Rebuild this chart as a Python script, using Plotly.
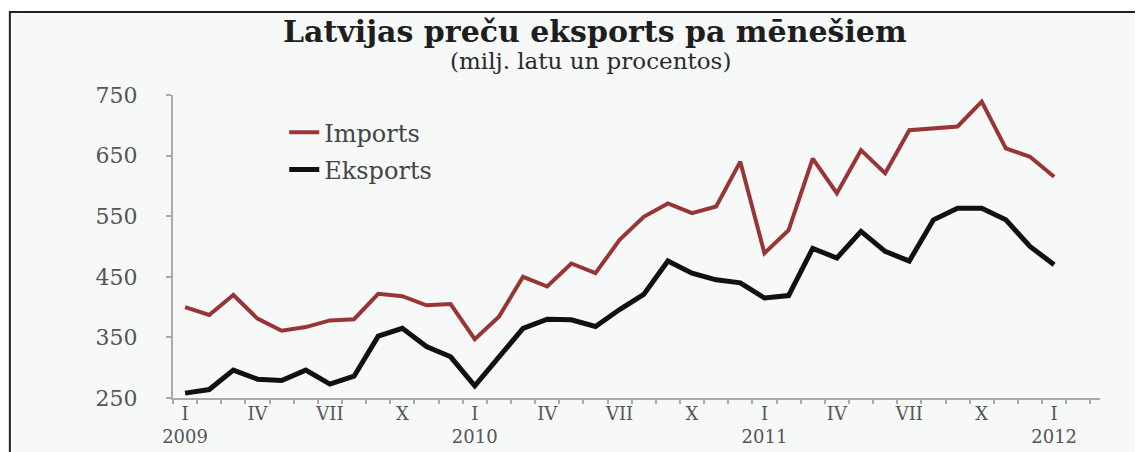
import plotly.graph_objects as go

# months Jan 2009 .. Jan 2012
month_idx = list(range(37))
imports = [400, 387, 420, 381, 361, 367, 378, 380, 422, 418, 403, 405, 347, 384, 450, 434, 472, 456, 511, 549,
           571, 555, 566, 640, 489, 527, 645, 588, 659, 621, 692, 695, 698, 739, 662, 648, 615]
eksports = [258, 264, 296, 281, 279, 296, 273, 286, 352, 365, 335, 318, 270, 318, 365, 380, 379, 368, 396, 421,
            476, 456, 445, 440, 415, 419, 497, 481, 525, 492, 476, 544, 563, 563, 544, 500, 470]

tick_pos = list(range(0, 37, 3))
tick_text = ['I<br>2009', 'IV', 'VII', 'X', 'I<br>2010', 'IV', 'VII', 'X',
             'I<br>2011', 'IV', 'VII', 'X', 'I<br>2012']

title_text = 'Latvijas preču eksports pa mēnešiem'
subtitle_text = '(milj. latu un procentos)'

serif = 'DejaVu Serif'
bg = '#f6f9f8'

fig = go.Figure()
fig.add_trace(go.Scatter(x=month_idx, y=imports, mode='lines', name='Imports', legendgroup='imp',
                         line=dict(color='#983536', width=4)))
fig.add_trace(go.Scatter(x=month_idx, y=eksports, mode='lines', name='Eksports', legendgroup='eks',
                         line=dict(color='#111111', width=5)))

# outer frame (top and left edges visible)
fig.add_shape(type='rect', xref='paper', yref='paper', x0=-0.176, x1=1.2, y0=-0.5, y1=1.274,
              fillcolor=bg, line=dict(color='#222', width=2), layer='below')

# two-line heading
fig.add_annotation(text='<b>' + title_text + '</b>', xref='paper', yref='paper', x=0.455, y=1.21,
                   xanchor='center', yanchor='middle', showarrow=False,
                   font=dict(family=serif, size=30, color='#1e1e1e'))
fig.add_annotation(text=subtitle_text, xref='paper', yref='paper', x=0.45, y=1.113,
                   xanchor='center', yanchor='middle', showarrow=False,
                   font=dict(family=serif, size=23, color='#2a2a2a'))

# the page body adds an 8px offset, so the figure is 8px smaller than the window
fig.update_layout(
    width=1135, height=444,
    margin=dict(l=165, r=43, t=87, b=54, autoexpand=False),
    paper_bgcolor='white',
    plot_bgcolor='rgba(0,0,0,0)',
    showlegend=True,
    legend=dict(x=0.12, y=0.95, xanchor='left', yanchor='top', bgcolor='rgba(0,0,0,0)',
                font=dict(family=serif, size=24, color='#444'), tracegroupgap=3),
    xaxis=dict(
        range=[-0.5, 37.9], tickmode='array', tickvals=tick_pos, ticktext=tick_text,
        ticks='', showgrid=False, zeroline=False, automargin=False,
        showline=True, linecolor='#aaaaaa', linewidth=2,
        tickfont=dict(family=serif, size=18, color='#555'),
        ticklabelstandoff=-2,
        minor=dict(ticks='outside', tick0=0.5, dtick=1, ticklen=4, tickcolor='#aaaaaa', tickwidth=2, showgrid=False),
    ),
    yaxis=dict(
        range=[250, 750], tickvals=[250, 350, 450, 550, 650, 750],
        ticks='outside', ticklen=5, tickcolor='#aaaaaa', tickwidth=2,
        showgrid=False, zeroline=False, automargin=False,
        showline=True, linecolor='#aaaaaa', linewidth=2,
        tickfont=dict(family=serif, size=22, color='#555'),
        ticklabelstandoff=24,
    ),
)

fig.write_html('out.html')
